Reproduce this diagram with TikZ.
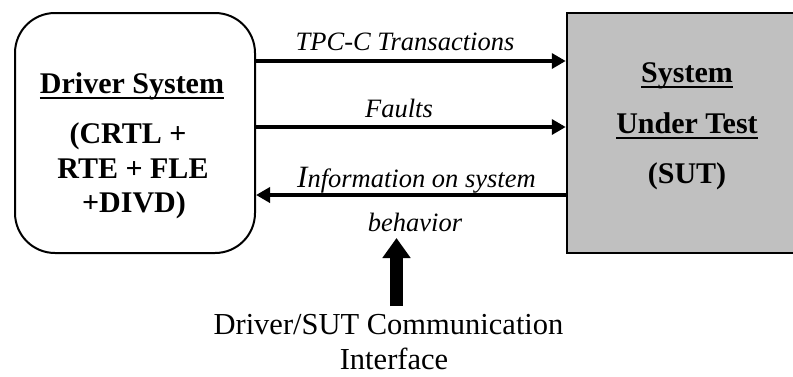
\documentclass[tikz,border=0pt]{standalone}
\usepackage{fontspec}
\setmainfont{Liberation Serif}
\usetikzlibrary{arrows.meta}

\newcommand\undl[1]{\setbox0=\hbox{#1}\rlap{\rule[-6pt]{\wd0}{2pt}}\box0}

\tikzset{
  driverbox/.style={draw, line width=2pt, rounded corners=40pt, minimum width=240pt, minimum height=240pt},
  sutbox/.style={draw, line width=2.5pt, fill={rgb,255:red,192;green,192;blue,192}, minimum width=233pt, minimum height=240pt},
  boldtxt/.style={anchor=base, inner sep=0pt, font=\fontsize{30}{36}\selectfont\bfseries},
  labeltxt/.style={anchor=base, inner sep=0pt, font=\fontsize{26.5}{32}\selectfont\itshape},
  plaintxt/.style={anchor=base, inner sep=0pt, font=\fontsize{30.5}{37}\selectfont},
  flow/.style={line width=4pt, -{Triangle[length=14pt,width=15pt]}},
  bigarrow/.style={line width=13pt, -{Triangle[length=20pt,width=27pt]}}
}

\begin{document}
\begin{tikzpicture}[x=1pt, y=-1pt]

\clip (0,0) rectangle (793,376);

% the two systems
\node[driverbox] (driver) at (135,133) {};
\node[sutbox] (sut) at (683.5,133) {};

\node[boldtxt] (drvname) at (132,93) {\undl{Driver System}};
\node[boldtxt] (drvline1) at (128,143) {(CRTL +};
\node[boldtxt] (drvline2) at (133,178) {RTE + FLE};
\node[boldtxt] (drvline3) at (134,212) {+DIVD)};

\node[boldtxt] (sutname1) at (687,82) {\undl{System}};
\node[boldtxt] (sutname2) at (687,133) {\undl{Under Test}};
\node[boldtxt] (sutname3) at (687,183) {(SUT)};

% traffic between them
\draw[flow] (driver.east |- 0,61) -- (sut.west |- 0,61);
\node[labeltxt] (tpc) at (405,50) {TPC-C Transactions};

\draw[flow] (driver.east |- 0,127) -- (sut.west |- 0,127);
\node[labeltxt] (faults) at (399,117) {Faults};

\draw[flow] (sut.west |- 0,195) -- (driver.east |- 0,195);
\node[labeltxt] (info) at (416.5,187) {{\fontsize{31}{32}\selectfont I}nformation on system};
\node[labeltxt] (behav) at (415,231) {behavior};

% interface
\node[plaintxt] (comm) at (388.5,334) {Driver/SUT Communication};
\node[plaintxt] (iface) at (394,369) {Interface};

\coordinate (tail) at (396.5,306);
\coordinate (tip) at (396.5,238);
\draw[bigarrow] (tail) -- (tip);

\end{tikzpicture}
\end{document}
